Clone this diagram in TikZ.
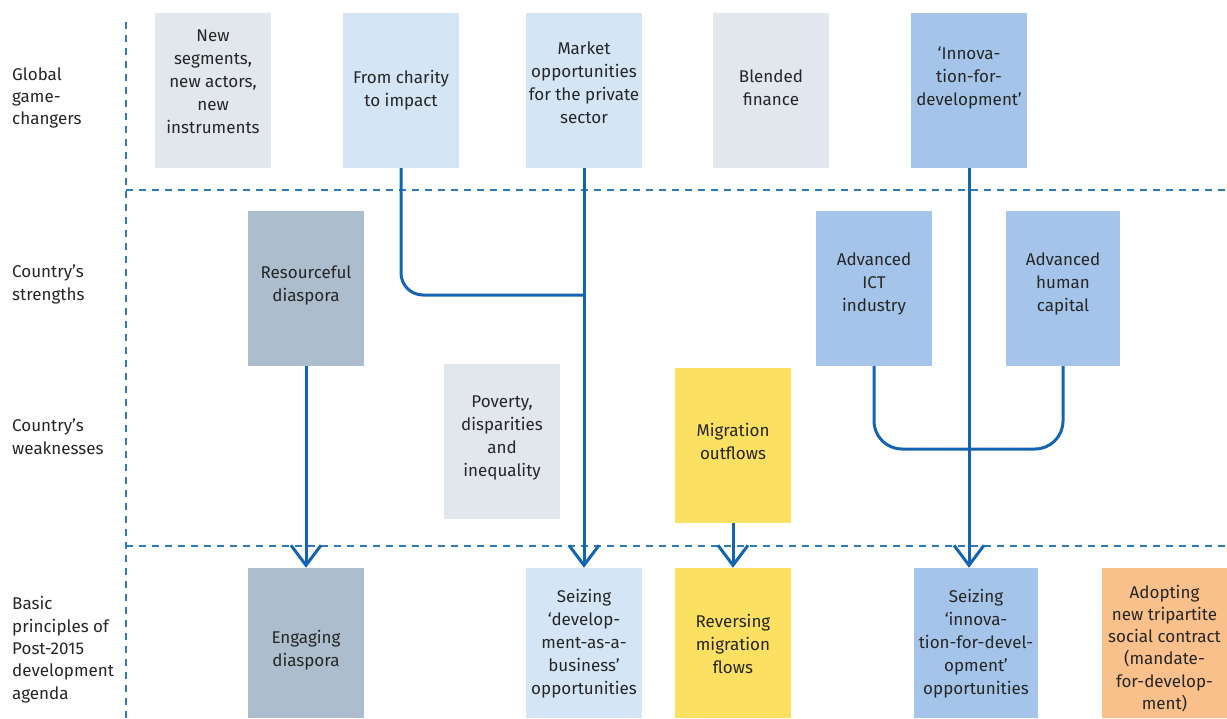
\documentclass[tikz,border=0pt]{standalone}
\usepackage{fontspec}
\setmainfont{Fira Sans}
\usetikzlibrary{arrows.meta}
\definecolor{cgray}{HTML}{E2E7EE}
\definecolor{clight}{HTML}{D4E5F6}
\definecolor{cblue}{HTML}{A4C5E9}
\definecolor{cslate}{HTML}{ACBDCD}
\definecolor{cyellow}{HTML}{FCE062}
\definecolor{corange}{HTML}{F9C08B}
\definecolor{cline}{HTML}{1464B4}
\definecolor{cdash}{HTML}{2E78BD}
\newcommand\boxtext[2]{\raisebox{\dimexpr#1pt-4.25pt\relax}[0pt][0pt]{\begin{tabular}{@{}c@{}}#2\end{tabular}}}
\newcommand\labtext[1]{\begin{tabular}{@{}l@{}}#1\end{tabular}}
\tikzset{
  box/.style={rectangle, inner sep=0pt, minimum width=116pt, minimum height=155pt, font=\fontsize{17}{23}\selectfont, text=black!85},
  lab/.style={anchor=west, inner sep=0pt, font=\fontsize{17}{22.4}\selectfont, text=black!85},
  sep/.style={cdash, line width=1.5pt, dash pattern=on 7pt off 6pt},
  conn/.style={cline, line width=3pt},
  arr/.style={conn, -{Straight Barb[length=20pt,width=30pt]}}
}
\begin{document}
\begin{tikzpicture}[x=1pt,y=-1pt]
\useasboundingbox (0,0) rectangle (1227,718);
% separators
\coordinate (v0) at (126,22);
\coordinate (v1) at (126,718);
\coordinate (h1a) at (126,190);
\coordinate (h1b) at (1227,190);
\coordinate (h2a) at (126,546);
\coordinate (h2b) at (1227,546);
\draw[sep] (v0) -- (v1);
\draw[sep] (h1a) -- (h1b);
\draw[sep] (h2a) -- (h2b);
% left labels
\node[lab] (l1) at (12,98) {\labtext{Global\\game-\\changers}};
\node[lab] (l2) at (12,284.5) {\labtext{Country’s\\strengths}};
\node[lab] (l3) at (12,438.5) {\labtext{Country’s\\weaknesses}};
\node[lab] (l4) at (12,650) {\labtext{Basic\\principles of\\Post-2015\\development\\agenda}};
% row 1
\node[box, fill=cgray] (seg) at (213,90.5) {\boxtext{7.5}{New\\segments,\\new actors,\\new\\instruments}};
\node[box, fill=clight] (charity) at (401,90.5) {\boxtext{0}{From charity\\to impact}};
\node[box, fill=clight] (market) at (584,90.5) {\boxtext{6.5}{Market\\opportunities\\for the private\\sector}};
\node[box, fill=cgray] (blend) at (771,90.5) {\boxtext{1}{Blended\\finance}};
\node[box, fill=cblue] (innov) at (969,90.5) {\boxtext{12.5}{‘Innova-\\tion-for-\\development’}};
% row 2
\node[box, fill=cslate] (resdia) at (306,288.5) {\boxtext{3}{Resourceful\\diaspora}};
\node[box, fill=cblue] (ict) at (874,288.5) {\boxtext{5}{Advanced\\ICT\\industry}};
\node[box, fill=cblue, minimum width=114pt] (hum) at (1063,288.5) {\boxtext{5}{Advanced\\human\\capital}};
% row 3
\node[box, fill=cgray] (pov) at (502,441.5) {\boxtext{4}{Poverty,\\disparities\\and\\inequality}};
\node[box, fill=cyellow] (migout) at (733,445.5) {\boxtext{2}{Migration\\outflows}};
% row 4
\node[box, fill=cslate, minimum height=150pt] (engdia) at (306,643) {\boxtext{-7}{Engaging\\diaspora}};
\node[box, fill=clight, minimum height=150pt] (seizedev) at (584,643) {\boxtext{-0.5}{Seizing\\‘develop-\\ment-as-a-\\business’\\opportunities}};
\node[box, fill=cyellow, minimum height=150pt] (revmig) at (733,643) {\boxtext{-2.5}{Reversing\\migration\\flows}};
\node[box, fill=cblue, minimum height=150pt, minimum width=124pt] (seizeinn) at (976,643) {\boxtext{-1}{Seizing\\‘innova-\\tion-for-devel-\\opment’\\opportunities}};
\node[box, fill=corange, minimum height=150pt, minimum width=125pt, font=\fontsize{17}{22.2}\selectfont] (adopt) at (1164.5,643) {\boxtext{-6.5}{Adopting\\new tripartite\\social contract\\(mandate-\\for-develop-\\ment)}};
% connectors
\coordinate (j1) at (584,295);
\coordinate (b2) at (0,449);
\draw[conn, rounded corners=22pt] (charity.south) |- (j1);
\draw[arr] (market.south) -- (seizedev.north);
\draw[arr] (resdia.south) -- (engdia.north);
\draw[arr] (migout.south) -- (revmig.north);
\draw[arr] (innov.south) -- (innov.south |- seizeinn.north);
\draw[conn, rounded corners=28pt] (ict.south) -- (ict.south |- b2) -- (hum.south |- b2) -- (hum.south);
\end{tikzpicture}
\end{document}
